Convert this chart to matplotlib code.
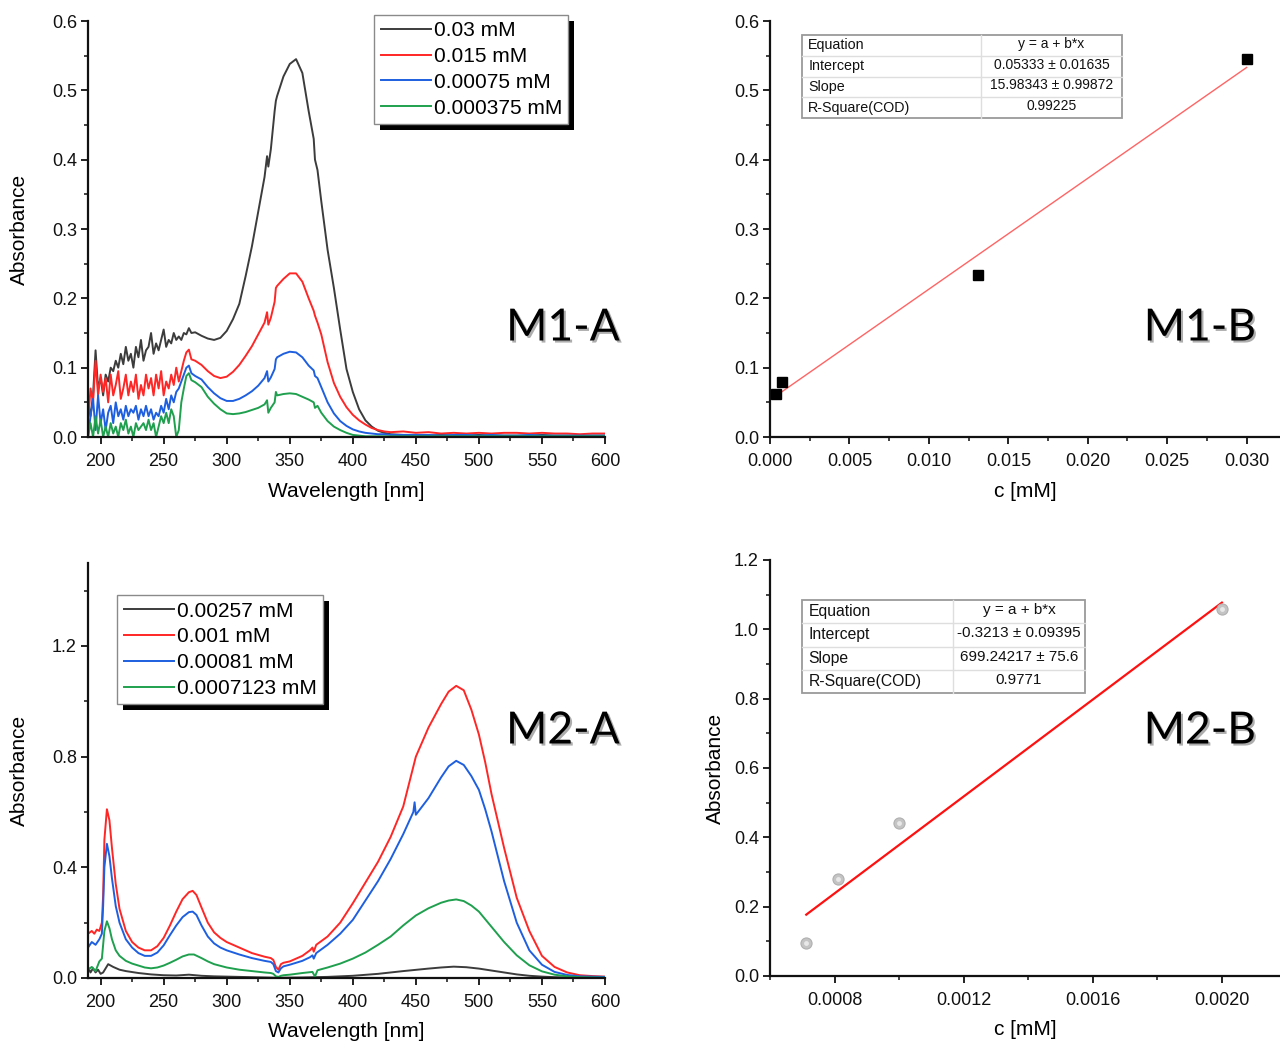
import matplotlib
matplotlib.use('Agg')
import matplotlib.pyplot as plt
from matplotlib.patches import Rectangle
from matplotlib.transforms import IdentityTransform
from matplotlib.ticker import MultipleLocator, FixedLocator, FormatStrFormatter
import matplotlib.patheffects as pe

plt.rcParams['font.family'] = ['Liberation Sans', 'DejaVu Sans']

# ---------------- M1-A spectra ----------------
M1_WL = [190, 192, 194, 196, 198, 200, 202, 204, 206, 208,
         210, 212, 214, 216, 218, 220, 222, 224, 226, 228,
         230, 232, 234, 236, 238, 240, 242, 244, 246, 248,
         250, 252, 254, 256, 258, 260, 262, 264, 266, 268,
         270, 272, 275, 280, 285, 290, 295, 300, 305, 310,
         315, 320, 325, 330, 332, 333, 335, 338, 339, 340,
         345, 350, 355, 360, 365, 369, 370, 372, 375, 380,
         385, 390, 395, 400, 405, 410, 415, 420, 425, 430,
         440, 450, 460, 470, 480, 490, 500, 510, 520, 530,
         540, 550, 560, 570, 580, 590, 600]
M1_LABELS = ['0.03 mM', '0.015 mM', '0.00075 mM', '0.000375 mM']
M1_BLACK = [.05, .03, .06, .125, .07, .085, .06, .09, .08, .10,
            .095, .11, .10, .12, .105, .13, .11, .12, .10, .13,
            .115, .14, .11, .125, .13, .15, .12, .135, .125, .14,
            .155, .13, .14, .135, .15, .14, .145, .14, .15, .148,
            .157, .150, .151, .146, .142, .140, .143, .153, .170, .192,
            .232, .275, .325, .375, .405, .39, .415, .47, .485, .492,
            .52, .538, .545, .525, .47, .43, .40, .385, .34, .27,
            .215, .155, .098, .065, .04, .024, .015, .009, .006, .004,
            .003, .003, .002, .003, .002, .002, .003, .002, .002, .002,
            .002, .003, .002, .002, .002, .002, .002]
M1_RED = [.02, .07, .05, .11, .06, .09, .065, .085, .05, .09,
          .06, .075, .095, .055, .07, .09, .06, .08, .065, .09,
          .055, .075, .06, .09, .07, .085, .06, .09, .07, .095,
          .06, .08, .07, .09, .075, .10, .08, .095, .11, .122,
          .126, .112, .110, .104, .095, .088, .085, .087, .094, .104,
          .117, .131, .148, .165, .18, .162, .172, .195, .215, .218,
          .228, .236, .236, .224, .200, .182, .175, .165, .148, .108,
          .078, .058, .043, .032, .024, .018, .013, .010, .008, .007,
          .008, .006, .007, .005, .006, .005, .006, .005, .006, .006,
          .005, .006, .005, .005, .004, .005, .005]
M1_BLUE = [.0, .03, .055, .01, .06, .02, .04, .01, .035, .045,
           .02, .05, .03, .04, .025, .045, .03, .04, .035, .045,
           .025, .04, .03, .045, .03, .04, .025, .035, .03, .045,
           .035, .055, .04, .06, .05, .065, .07, .08, .09, .10,
           .103, .092, .088, .083, .072, .063, .056, .052, .052, .055,
           .060, .066, .074, .085, .095, .080, .086, .098, .112, .115,
           .120, .123, .122, .115, .103, .096, .088, .085, .072, .050,
           .034, .023, .016, .011, .008, .006, .005, .004, .004, .003,
           .003, .003, .003, .002, .003, .003, .002, .003, .002, .002,
           .003, .002, .002, .002, .002, .002, .002]
M1_GREEN = [.0, .02, .0, .03, .005, .025, .0, .015, .0, .02,
            .005, .015, .0, .02, .01, .025, .005, .015, .0, .02,
            .01, .015, .02, .01, .025, .01, .02, .0, .015, .03,
            .02, .035, .02, .04, .03, .0, .01, .05, .07, .088,
            .092, .082, .079, .072, .058, .048, .040, .034, .033, .034,
            .036, .039, .042, .047, .053, .035, .042, .050, .065, .060,
            .062, .063, .062, .058, .054, .050, .042, .045, .035, .023,
            .015, .010, .006, .003, .002, .001, .001, .001, .001, .001,
            .001, .001, .001, .001, .001, .001, .001, .001, .001, .001,
            .001, .001, .001, .001, .001, .001, .001]

# ---------------- M2-A spectra (wavelength, absorbance) ----------------
M2_LABELS = ['0.00257 mM', '0.001 mM', '0.00081 mM', '0.0007123 mM']
M2_BLACK = [(190, .04), (192, .02), (194, .035), (196, .02), (198, .03), (200, .015), (202, .02),
            (204, .035), (206, .05), (208, .045), (210, .04), (215, .03), (220, .025), (230, .018),
            (240, .013), (250, .01), (260, .009), (270, .012), (280, .008), (290, .006), (300, .005),
            (320, .003), (340, .001), (360, .002), (380, .004), (400, .008), (420, .015), (440, .025),
            (460, .034), (470, .038), (480, .041), (490, .039), (500, .034), (510, .027), (520, .02),
            (530, .013), (540, .008), (550, .005), (560, .003), (580, .001), (600, .0)]
M2_RED = [(190, .16), (193, .17), (195, .16), (197, .175), (199, .17), (201, .20), (202, .30),
          (203, .50), (205, .61), (207, .57), (209, .47), (212, .34), (215, .25), (220, .17),
          (225, .13), (230, .11), (235, .10), (240, .10), (245, .115), (250, .145), (255, .19),
          (260, .24), (265, .285), (270, .31), (273, .315), (276, .30), (280, .255), (285, .20),
          (290, .165), (295, .145), (300, .13), (310, .11), (320, .09), (330, .077), (335, .072),
          (337, .065), (339, .04), (341, .03), (343, .05), (345, .055), (350, .06), (360, .08),
          (366, .10), (368, .11), (369, .095), (371, .12), (380, .15), (390, .20), (400, .27),
          (410, .345), (420, .42), (430, .51), (440, .62), (445, .71), (450, .80), (460, .905),
          (470, .99), (476, 1.035), (482, 1.056), (488, 1.04), (494, .97), (500, .88), (505, .78),
          (510, .665), (520, .47), (530, .29), (540, .17), (550, .08), (560, .04), (570, .02),
          (580, .01), (590, .007), (600, .005)]
M2_BLUE = [(190, .11), (193, .13), (196, .12), (199, .14), (201, .16), (202, .26), (203, .40),
           (205, .485), (207, .44), (209, .36), (212, .26), (215, .20), (220, .14), (225, .11),
           (230, .09), (235, .08), (240, .08), (245, .092), (250, .118), (255, .155), (260, .19),
           (265, .22), (270, .238), (273, .24), (276, .228), (280, .19), (285, .15), (290, .125),
           (295, .11), (300, .10), (310, .085), (320, .072), (330, .062), (335, .058), (337, .05),
           (339, .025), (341, .02), (343, .035), (345, .042), (350, .048), (360, .062), (366, .075),
           (368, .082), (369, .07), (371, .09), (380, .12), (390, .16), (400, .21), (410, .28),
           (420, .35), (430, .43), (440, .52), (446, .58), (448, .60), (449, .635), (450, .59),
           (455, .62), (460, .65), (470, .725), (476, .765), (482, .785), (488, .77), (494, .73),
           (500, .68), (505, .61), (510, .53), (520, .35), (530, .20), (540, .10), (550, .048),
           (560, .022), (570, .011), (580, .006), (590, .005), (600, .004)]
M2_GREEN = [(190, .03), (193, .04), (196, .025), (199, .06), (201, .07), (202, .12), (203, .17),
            (205, .205), (207, .18), (209, .14), (212, .10), (215, .08), (220, .062), (225, .052),
            (230, .045), (235, .038), (240, .035), (245, .038), (250, .045), (255, .055), (260, .066),
            (265, .078), (270, .085), (274, .085), (280, .072), (285, .06), (290, .05), (300, .038),
            (310, .03), (320, .025), (330, .02), (335, .018), (337, .015), (339, .006), (341, .004),
            (343, .008), (345, .01), (350, .012), (360, .018), (368, .022), (370, .005), (372, .028),
            (380, .038), (390, .052), (400, .07), (410, .092), (420, .12), (430, .15), (440, .19),
            (450, .226), (460, .252), (470, .272), (476, .28), (482, .284), (488, .278), (494, .262),
            (500, .24), (510, .185), (520, .13), (530, .082), (540, .046), (550, .024), (560, .012),
            (570, .006), (580, .003), (590, .002), (600, .001)]

# ---------------- calibration data ----------------
M1B_C = [0.000375, 0.00075, 0.0131, 0.030]
M1B_A = [0.0624, 0.0792, 0.234, 0.5448]
M1B_FIT_C = [0.000375, 0.030]
M1B_FIT_A = [0.0593, 0.533]
M1B_TABLE_KEYS = ['Equation', 'Intercept', 'Slope', 'R-Square(COD)']
M1B_TABLE_VALS = ['y = a + b*x', '0.05333 \u00b1 0.01635', '15.98343 \u00b1 0.99872', '0.99225']

M2B_C = [0.0007123, 0.00081, 0.001, 0.002]
M2B_A = [0.096, 0.281, 0.441, 1.060]
M2B_FIT_C = [0.0007123, 0.0020]
M2B_FIT_A = [0.177, 1.077]
M2B_TABLE_KEYS = ['Equation', 'Intercept', 'Slope', 'R-Square(COD)']
M2B_TABLE_VALS = ['y = a + b*x', '-0.3213 \u00b1 0.09395', '699.24217 \u00b1 75.6', '0.9771']

COLORS = ['#3c3c3c', '#ff2626', '#1e5fe0', '#1fa04e']

W, H = 1280, 1043
fig = plt.figure(figsize=(W / 100, H / 100), dpi=100)
fig.patch.set_facecolor('white')


def axes_px(left, right, top, bottom):
    return fig.add_axes([left / W, 1 - bottom / H, (right - left) / W, (bottom - top) / H])


def style(ax):
    for s in ['top', 'right']:
        ax.spines[s].set_visible(False)
    for s in ['left', 'bottom']:
        ax.spines[s].set_linewidth(1.6)
        ax.spines[s].set_color('#111111')
    ax.tick_params(which='major', direction='out', length=5, width=1.3,
                   labelsize=13, colors='#111111', pad=3)
    ax.tick_params(which='minor', direction='out', length=3, width=1.1, colors='#111111')
    ax.tick_params(axis='x', which='major', pad=6.5)


def draw_table(ax, x0, x1, xs, y0, y1, keys, vals, fs):
    ax.add_patch(Rectangle((x0, y1), x1 - x0, y0 - y1, transform=ax.transAxes,
                           facecolor='white', edgecolor='#9a9a9a', lw=1.3, zorder=6))
    n = len(keys)
    h = (y0 - y1) / n
    for i in range(1, n):
        yy = y0 - i * h
        ax.plot([x0, x1], [yy, yy], transform=ax.transAxes, color='#dedede', lw=1.0, zorder=7)
    ax.plot([xs, xs], [y0, y1], transform=ax.transAxes, color='#dedede', lw=1.0, zorder=7)
    for i, (k, v) in enumerate(zip(keys, vals)):
        yc = y0 - (i + 0.5) * h
        ax.text(x0 + 0.012, yc, k, transform=ax.transAxes, ha='left', va='center',
                fontsize=fs + 0.3, color='#111111', zorder=8)
        ax.text((xs + x1) / 2, yc + 0.004, v, transform=ax.transAxes, ha='center', va='center',
                fontsize=fs, color='#111111', zorder=8)


big_fx = [pe.withSimplePatchShadow(offset=(1.5, -1.5), shadow_rgbFace='#777777', alpha=0.6)]

# ---------- M1-A ----------
axA1 = axes_px(88, 605, 21, 437)
series = [M1_BLACK, M1_RED, M1_BLUE, M1_GREEN]
for vals, col, lab in zip(series, COLORS, M1_LABELS):
    axA1.plot(M1_WL, vals, color=col, lw=1.4, label=lab)
axA1.set_xlim(190, 600)
axA1.set_ylim(0, 0.6)
axA1.xaxis.set_major_locator(MultipleLocator(50))
axA1.xaxis.set_minor_locator(MultipleLocator(25))
axA1.yaxis.set_major_locator(MultipleLocator(0.1))
axA1.yaxis.set_minor_locator(MultipleLocator(0.05))
axA1.yaxis.set_major_formatter(FormatStrFormatter('%.1f'))
style(axA1)
axA1.set_xlabel('Wavelength [nm]', fontsize=15)
axA1.set_ylabel('Absorbance', fontsize=15)
axA1.xaxis.set_label_coords(0.5, -0.108)
axA1.yaxis.set_label_coords(-0.115, 0.5)
legA1 = axA1.legend(loc='upper left', bbox_to_anchor=(0.554, 1.015), borderaxespad=0,
                    fontsize=15, frameon=True, fancybox=False, edgecolor='#8a8a8a',
                    framealpha=1, handlelength=2.4, handletextpad=0.15,
                    labelspacing=0.33, borderpad=0.3)
legA1.get_frame().set_linewidth(1.0)

# ---------- M1-B ----------
axB1 = axes_px(770, 1280, 21, 437)
axB1.plot(M1B_FIT_C, M1B_FIT_A, color='#ff6464', lw=1.0, zorder=2)
axB1.plot(M1B_C, M1B_A, linestyle='none', marker='s', markersize=7, color='black', zorder=3)
axB1.set_xlim(0, 0.0321)
axB1.set_ylim(0, 0.6)
axB1.xaxis.set_major_locator(MultipleLocator(0.005))
axB1.xaxis.set_minor_locator(MultipleLocator(0.0025))
axB1.xaxis.set_major_formatter(FormatStrFormatter('%.3f'))
axB1.yaxis.set_major_locator(MultipleLocator(0.1))
axB1.yaxis.set_minor_locator(MultipleLocator(0.05))
axB1.yaxis.set_major_formatter(FormatStrFormatter('%.1f'))
style(axB1)
axB1.set_xlabel('c [mM]', fontsize=15)
axB1.xaxis.set_label_coords(0.5, -0.108)
draw_table(axB1, 0.063, 0.690, 0.414, 0.966, 0.767, M1B_TABLE_KEYS, M1B_TABLE_VALS, 10)

# ---------- M2-A ----------
axA2 = axes_px(88, 605, 563, 978)
series2 = [M2_BLACK, M2_RED, M2_BLUE, M2_GREEN]
for pts, col, lab in zip(series2, COLORS, M2_LABELS):
    axA2.plot([p[0] for p in pts], [p[1] for p in pts], color=col, lw=1.4, label=lab)
axA2.set_xlim(190, 600)
axA2.set_ylim(0, 1.5)
axA2.xaxis.set_major_locator(MultipleLocator(50))
axA2.xaxis.set_minor_locator(MultipleLocator(25))
axA2.yaxis.set_major_locator(MultipleLocator(0.4))
axA2.yaxis.set_minor_locator(MultipleLocator(0.2))
axA2.yaxis.set_major_formatter(FormatStrFormatter('%.1f'))
style(axA2)
axA2.set_xlabel('Wavelength [nm]', fontsize=15)
axA2.set_ylabel('Absorbance', fontsize=15)
axA2.xaxis.set_label_coords(0.5, -0.106)
axA2.yaxis.set_label_coords(-0.115, 0.5)
legA2 = axA2.legend(loc='upper left', bbox_to_anchor=(0.057, 0.922), borderaxespad=0,
                    fontsize=15, frameon=True, fancybox=False, edgecolor='#8a8a8a',
                    framealpha=1, handlelength=2.4, handletextpad=0.15,
                    labelspacing=0.33, borderpad=0.3)
legA2.get_frame().set_linewidth(1.0)

# ---------- M2-B ----------
axB2 = axes_px(770, 1280, 560, 976)
axB2.plot(M2B_FIT_C, M2B_FIT_A, color='#ff1010', lw=1.6, zorder=2)
axB2.plot(M2B_C, M2B_A, linestyle='none', marker='o', markersize=8,
          markerfacecolor='#c4c4c4', markeredgecolor='#b0b0b0', markeredgewidth=0.8, zorder=3)
axB2.plot(M2B_C, M2B_A, linestyle='none', marker='o', markersize=3.5,
          markerfacecolor='#e8e8e8', markeredgecolor='none', zorder=4)
axB2.set_xlim(0.0006, 0.00218)
axB2.set_ylim(0, 1.2)
axB2.xaxis.set_major_locator(FixedLocator([0.0008, 0.0012, 0.0016, 0.0020]))
axB2.xaxis.set_minor_locator(FixedLocator([0.0006, 0.0010, 0.0014, 0.0018]))
axB2.xaxis.set_major_formatter(FormatStrFormatter('%.4f'))
axB2.yaxis.set_major_locator(MultipleLocator(0.2))
axB2.yaxis.set_minor_locator(MultipleLocator(0.1))
axB2.yaxis.set_major_formatter(FormatStrFormatter('%.1f'))
style(axB2)
axB2.set_xlabel('c [mM]', fontsize=15)
axB2.set_ylabel('Absorbance', fontsize=15)
axB2.xaxis.set_label_coords(0.5, -0.106)
axB2.yaxis.set_label_coords(-0.088, 0.5)
draw_table(axB2, 0.063, 0.618, 0.358, 0.904, 0.680, M2B_TABLE_KEYS, M2B_TABLE_VALS, 11)

# ---------- big panel labels ----------
for txt, x, y in [('M1-A', 563, 328), ('M1-B', 1200, 328), ('M2-A', 563, 731), ('M2-B', 1200, 731)]:
    fig.text(x / W, 1 - y / H, txt, ha='center', va='center', fontsize=32,
             family=['Lato', 'DejaVu Sans'], color='black', path_effects=big_fx)

# ---------- legend drop shadows ----------
fig.canvas.draw()
for ax, leg in [(axA1, legA1), (axA2, legA2)]:
    bb = leg.get_window_extent()
    ax.add_patch(Rectangle((bb.x0 + 6, bb.y0 - 6), bb.width, bb.height,
                           transform=IdentityTransform(), facecolor='black',
                           edgecolor='none', zorder=4.9, clip_on=False))

fig.savefig('out.png', dpi=100, facecolor='white')
